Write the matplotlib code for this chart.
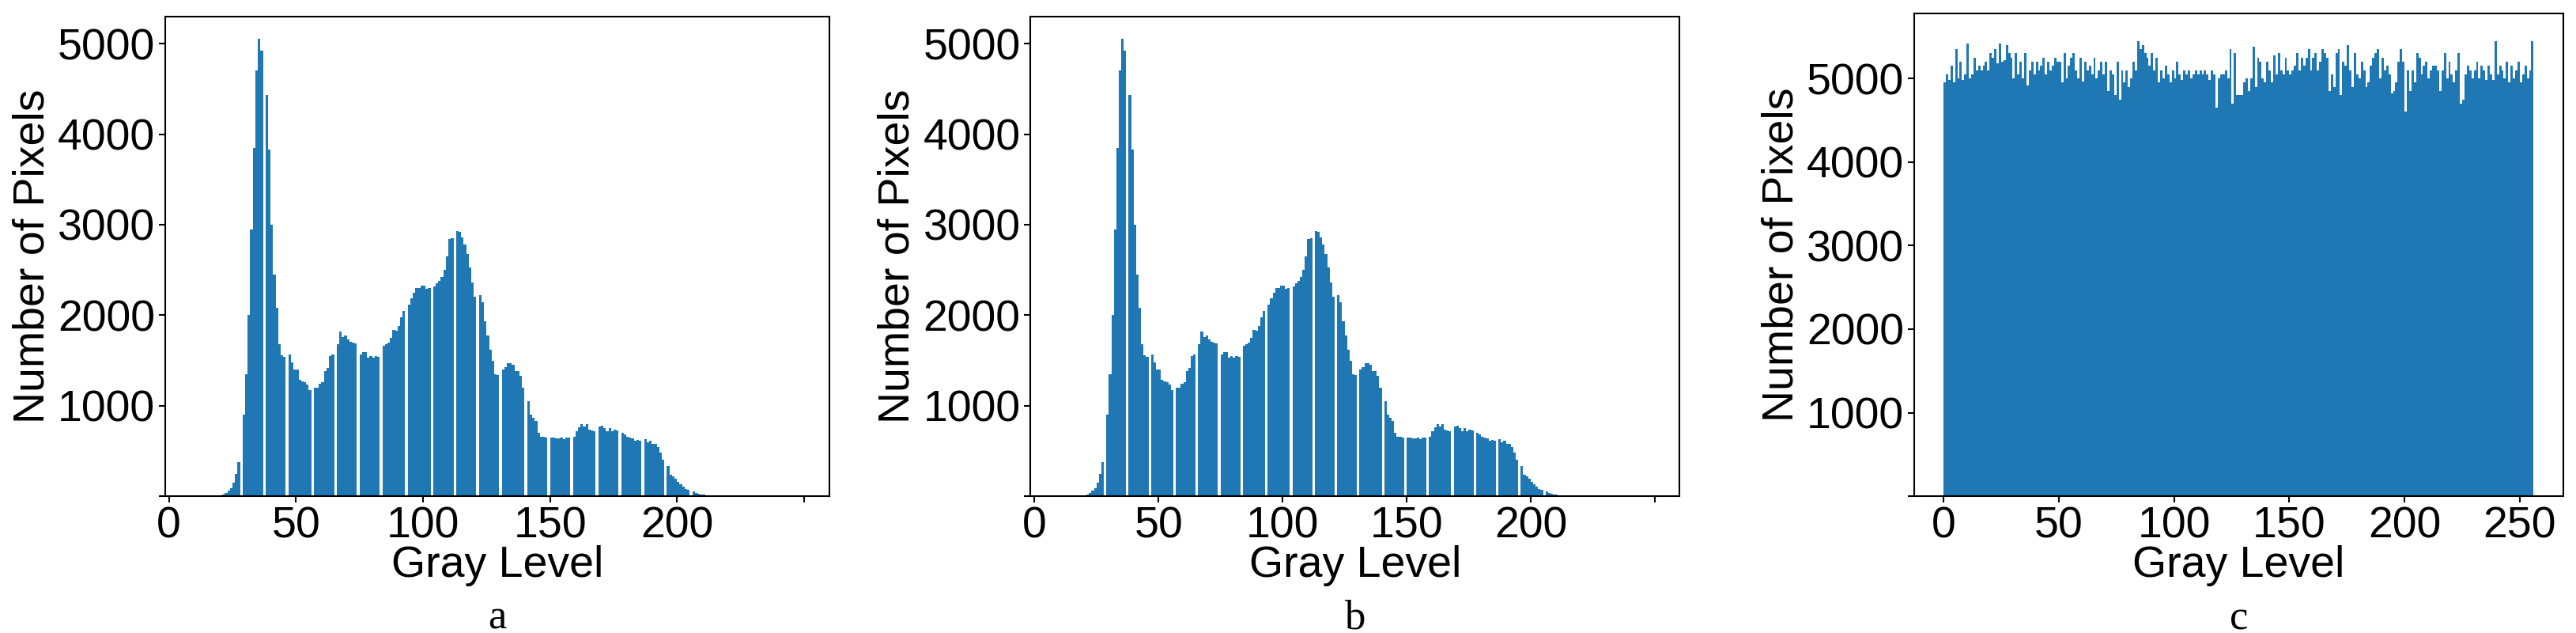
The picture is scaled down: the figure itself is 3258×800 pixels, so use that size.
import matplotlib
matplotlib.use("Agg")
import matplotlib.pyplot as plt
import numpy as np

# Panel a / b histogram (gray level -> count); zeros are the visible gaps
levels_ab = list(range(0, 256))
counts_ab_nonzero = {
17: 10, 18: 10, 19: 10, 20: 10, 21: 20, 22: 40, 23: 60, 24: 90, 25: 150, 26: 250, 27: 380, 28: 0,
29: 900, 30: 1350, 31: 2000, 32: 2950, 33: 3850, 34: 4700, 35: 5050, 36: 4920, 37: 0,
38: 4430, 39: 3830, 40: 3000, 41: 2450, 42: 2080, 43: 1680, 44: 1560, 45: 1540, 46: 0,
47: 1570, 48: 1480, 49: 1400, 50: 1400, 51: 1290, 52: 1270, 53: 1260, 54: 1230, 55: 1170, 56: 0,
57: 1200, 58: 1200, 59: 1240, 60: 1260, 61: 1380, 62: 1420, 63: 1550, 64: 1570, 65: 0,
66: 1680, 67: 1820, 68: 1760, 69: 1780, 70: 1730, 71: 1710, 72: 1700, 73: 1690, 74: 0,
75: 1570, 76: 1590, 77: 1590, 78: 1530, 79: 1550, 80: 1530, 81: 1550, 82: 1540, 83: 0,
84: 1660, 85: 1680, 86: 1700, 87: 1750, 88: 1840, 89: 1830, 90: 1880, 91: 1980, 92: 2050, 93: 0,
94: 2120, 95: 2190, 96: 2250, 97: 2300, 98: 2300, 99: 2330, 100: 2330, 101: 2290, 102: 2300, 103: 0,
104: 2320, 105: 2350, 106: 2380, 107: 2420, 108: 2500, 109: 2650, 110: 2840, 111: 2850, 112: 0,
113: 2930, 114: 2920, 115: 2860, 116: 2780, 117: 2680, 118: 2530, 119: 2360, 120: 2200, 121: 0,
122: 2220, 123: 2140, 124: 1930, 125: 1780, 126: 1620, 127: 1500, 128: 1350, 129: 1340, 130: 0,
131: 1400, 132: 1430, 133: 1470, 134: 1470, 135: 1450, 136: 1380, 137: 1380, 138: 1330, 139: 1200, 140: 0,
141: 1050, 142: 900, 143: 870, 144: 830, 145: 700, 146: 660, 147: 660, 148: 650, 149: 0,
150: 650, 151: 650, 152: 640, 153: 640, 154: 650, 155: 630, 156: 650, 157: 650, 158: 0,
159: 660, 160: 720, 161: 760, 162: 800, 163: 770, 164: 800, 165: 740, 166: 730, 167: 720, 168: 0,
169: 770, 170: 780, 171: 750, 172: 720, 173: 750, 174: 720, 175: 740, 176: 730, 177: 0,
178: 700, 179: 680, 180: 660, 181: 650, 182: 640, 183: 610, 184: 620, 185: 610, 186: 0,
187: 630, 188: 600, 189: 610, 190: 580, 191: 580, 192: 540, 193: 480, 194: 400, 195: 0,
196: 330, 197: 240, 198: 220, 199: 190, 200: 160, 201: 130, 202: 110, 203: 80, 204: 70, 205: 0,
206: 50, 207: 40, 208: 30, 209: 20, 210: 15, 211: 10, 212: 10, 213: 5, 214: 5, 215: 5, 216: 5, 217: 5, 218: 5,
}
counts_ab = [counts_ab_nonzero.get(l, 0) for l in levels_ab]

# Panel c (equalized) histogram
levels_c = list(range(0, 256))
counts_c = [
4950,5050,4980,5150,4950,5350,5000,5200,4980,5050,
5420,5000,5050,5250,5100,5150,5100,5150,5200,5100,
5300,5250,5350,5180,5420,5200,5220,5400,5300,5250,
5000,5300,5050,5200,5000,5300,4920,5100,5200,5050,
5200,5100,5150,5250,5050,5200,5100,5150,5250,5200,
5200,4950,5300,5000,5150,5250,5300,5100,5000,5250,
4960,5200,5100,5150,5050,5250,5000,5100,5200,5050,
5200,4850,5100,5050,4800,5200,4750,5100,4950,5100,
4900,5000,5200,5100,5450,5350,5400,5300,5250,5150,
5300,5100,5250,4950,5100,5000,5150,5050,4950,5100,
5000,5200,5050,4980,5100,5050,5100,5000,5050,5100,
5050,5100,5050,5100,5050,4980,5100,5050,4650,5000,
5050,5050,5100,5000,5350,4700,5300,4800,4800,4800,
4950,5000,4850,5000,5380,4900,5250,5200,5000,4950,
5200,5100,4950,5280,5050,5300,5100,5050,5250,5100,
5050,5100,5150,5300,5100,5250,5150,5250,5350,5100,
5250,5300,5100,5200,5350,5300,5250,4850,5050,4900,
5300,5350,4800,5200,5150,5400,5100,4900,5300,5050,
5000,5200,5100,4900,4950,5150,5250,5300,5350,5000,
5250,5100,5150,5050,4820,4850,4950,5200,5350,5200,
4600,5100,4850,5100,4950,5300,5250,5050,5150,5200,
5000,5100,5150,5150,5100,4850,5100,5300,5000,5200,
5050,4950,5100,5300,4700,4750,5050,5150,5100,5000,
5100,5200,5000,5150,5100,4980,5150,5050,4980,5450,
5050,5150,5100,5000,5200,4950,5150,5000,5100,5200,4950,5050,5150,5000,5100,5450,
]

yticks = [0, 1000, 2000, 3000, 4000, 5000]
ytick_labels = ["", "1000", "2000", "3000", "4000", "5000"]
captions = ["a", "b", "c"]

plt.rcParams['font.family'] = ['Liberation Sans', 'DejaVu Sans']
COLOR = '#1f77b4'
fig = plt.figure(figsize=(32.58, 8), dpi=100)

rects = [(0.064, 0.216, 0.258, 0.758), (0.400, 0.216, 0.252, 0.758), (0.743, 0.216, 0.252, 0.763)]
for i, r in enumerate(rects):
    ax = fig.add_axes(r)
    if i < 2:
        ax.bar(levels_ab, counts_ab, width=1.0, align='edge', color=COLOR, linewidth=0)
        ax.set_xlim(-1.6, 260)
        ax.set_ylim(0, 5300)
        ax.set_xticks([0, 50, 100, 150, 200, 250])
        ax.set_xticklabels(["0", "50", "100", "150", "200", ""])
    else:
        ax.bar(levels_c, counts_c, width=1.0, align='edge', color=COLOR, linewidth=0)
        ax.set_xlim(-12.8, 268.8)
        ax.set_ylim(0, 5780)
        ax.set_xticks([0, 50, 100, 150, 200, 250])
    ax.set_yticks(yticks)
    ax.set_yticklabels(ytick_labels)
    ax.tick_params(labelsize=40, length=6, width=1.5, pad=3)
    for s in ax.spines.values():
        s.set_linewidth(1.5)
    ax.set_xlabel("Gray Level", fontsize=40, labelpad=-2)
    ax.set_ylabel("Number of Pixels", fontsize=40, labelpad=4)
    ax.text(0.5, -0.215, captions[i], transform=ax.transAxes, ha='center', va='top',
            fontsize=38, family=['Liberation Serif', 'DejaVu Serif'])

fig.savefig("out.png", dpi=100)
